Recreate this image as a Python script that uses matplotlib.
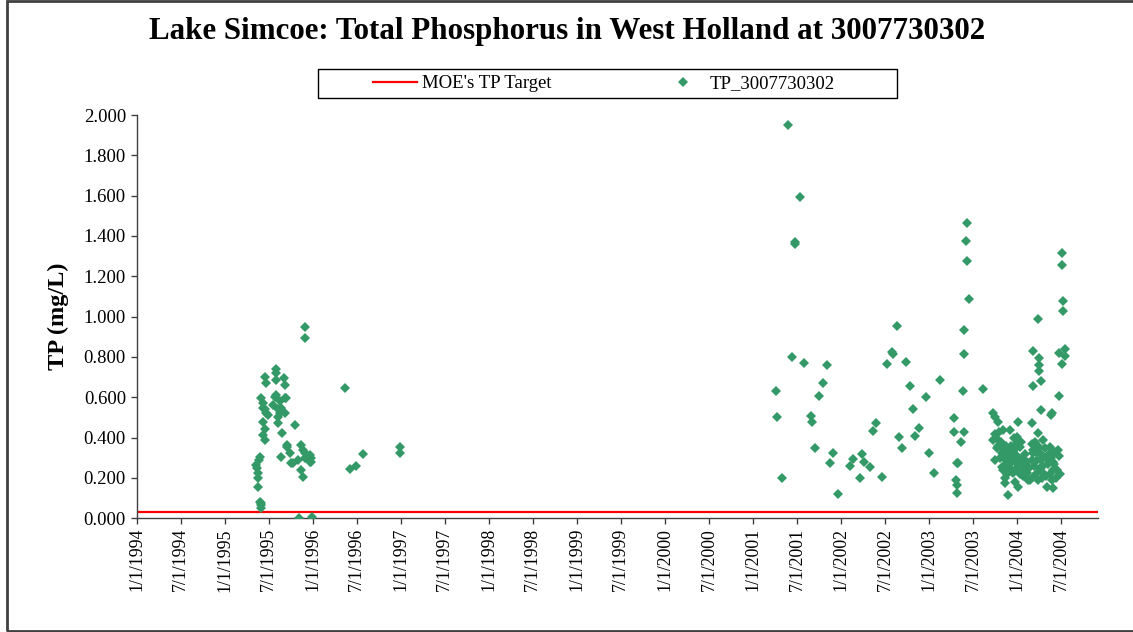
import datetime as dt
import matplotlib
matplotlib.use("Agg")
import matplotlib.pyplot as plt
import matplotlib.dates as mdates
from matplotlib.patches import Rectangle
from matplotlib.ticker import FuncFormatter

# ---------------- data (decimal year, TP mg/L) ----------------
years_1995 = [1995.357, 1995.364, 1995.376, 1995.376, 1995.376, 1995.395, 1995.385, 1995.395,
              1995.405, 1995.414, 1995.405,
              1995.414, 1995.433, 1995.433, 1995.433, 1995.451, 1995.451, 1995.471, 1995.490,
              1995.433, 1995.451, 1995.471, 1995.451, 1995.546, 1995.576, 1995.576, 1995.584,
              1995.584, 1995.603, 1995.603, 1995.603, 1995.641, 1995.649, 1995.671, 1995.678,
              1995.678, 1995.678, 1995.697, 1995.565, 1995.620, 1995.620,
              1995.641, 1995.709, 1995.709, 1995.735, 1995.754, 1995.773, 1995.799, 1995.830,
              1995.867, 1995.867, 1995.887, 1995.905, 1995.961, 1995.961, 1995.981, 1995.981,
              1995.887, 1995.905, 1995.905, 1995.905, 1995.837, 1995.989]
tp_1995 = [0.264, 0.250, 0.223, 0.200, 0.157, 0.306, 0.290, 0.082,
           0.065, 0.050, 0.075,
           0.595, 0.546, 0.479, 0.413, 0.388, 0.702, 0.670, 0.512,
           0.570, 0.540, 0.520, 0.445, 0.562, 0.741, 0.720, 0.686,
           0.612, 0.504, 0.471, 0.540, 0.546, 0.422, 0.694, 0.661,
           0.595, 0.521, 0.595, 0.600, 0.580, 0.520,
           0.306, 0.364, 0.355, 0.322, 0.273, 0.273, 0.463, 0.289,
           0.364, 0.240, 0.206, 0.322, 0.281, 0.314, 0.281, 0.300,
           0.340, 0.300, 0.950, 0.893, 0.000, 0.005]

years_1996 = [1996.358, 1996.415, 1996.491, 1996.567, 1996.982, 1996.982]
tp_1996 = [0.648, 0.243, 0.261, 0.317, 0.355, 0.325]

years_2001_2003 = [2001.253, 2001.272, 2001.321, 2001.397, 2001.434, 2001.468, 2001.470, 2001.525,
                   2001.574, 2001.650, 2001.669, 2001.706, 2001.744, 2001.794, 2001.839, 2001.868,
                   2001.907, 2001.964, 2002.103, 2002.134, 2002.217, 2002.236, 2002.254, 2002.322,
                   2002.361, 2002.398, 2002.460, 2002.519, 2002.580, 2002.590, 2002.633, 2002.651,
                   2002.689, 2002.737, 2002.776, 2002.812, 2002.832, 2002.888, 2002.961, 2002.999,
                   2003.048, 2003.124,
                   2003.285, 2003.285, 2003.320, 2003.331, 2003.306, 2003.320, 2003.320, 2003.358,
                   2003.381, 2003.390, 2003.399, 2003.399, 2003.415, 2003.426, 2003.426, 2003.456,
                   2003.615]
tp_2001_2003 = [0.633, 0.504, 0.198, 1.951, 0.799, 1.370, 1.362, 1.592,
                0.769, 0.509, 0.479, 0.350, 0.608, 0.673, 0.760, 0.276,
                0.322, 0.119, 0.259, 0.294, 0.198, 0.319, 0.281, 0.253,
                0.435, 0.474, 0.206, 0.767, 0.823, 0.815, 0.956, 0.403,
                0.347, 0.774, 0.656, 0.544, 0.410, 0.449, 0.601, 0.323,
                0.227, 0.688,
                0.498, 0.430, 0.276, 0.276, 0.190, 0.163, 0.127, 0.377,
                0.631, 0.430, 0.934, 0.813, 1.377, 1.466, 1.275, 1.086,
                0.640]

years_2004 = [2003.728, 2003.747, 2003.785, 2003.728, 2003.767, 2003.747, 2003.823, 2003.823,
              2003.841, 2003.841, 2003.860, 2003.860, 2003.880, 2003.880, 2003.898, 2003.917,
              2003.917, 2003.955, 2003.974, 2003.993, 2003.993, 2003.993, 2004.011, 2004.011,
              2004.011, 2004.031, 2004.087, 2004.107, 2004.125, 2004.144, 2004.163, 2004.163,
              2004.181, 2004.181, 2004.181, 2004.220, 2004.220, 2004.239, 2004.268, 2004.295,
              2004.295, 2004.333, 2004.371, 2004.408, 2004.408, 2004.408,
              2003.750, 2003.780, 2003.800, 2003.870, 2003.900, 2003.940, 2003.960, 2004.050,
              2004.060, 2004.200, 2004.250, 2004.260, 2004.280, 2004.320, 2004.350, 2004.380,
              2004.390, 2004.420, 2004.440, 2004.460,
              2003.760, 2003.790, 2003.810, 2003.830, 2003.850, 2003.860, 2003.880, 2003.890,
              2003.910, 2003.930, 2003.940, 2003.950, 2003.970, 2003.980, 2004.000, 2004.020,
              2004.030, 2004.040, 2004.070, 2004.090, 2004.110, 2004.130,
              2004.170, 2004.190, 2004.210, 2004.230, 2004.240, 2004.270, 2004.290, 2004.310,
              2004.330, 2004.360, 2004.370, 2004.400, 2004.430, 2004.450, 2004.470, 2004.480,
              2004.239, 2004.181, 2004.249, 2004.249, 2004.249, 2004.268, 2004.173, 2004.268,
              2004.390, 2004.380, 2004.473, 2004.503, 2004.503, 2004.522, 2004.522, 2004.541,
              2004.476, 2004.545, 2004.503]
tp_2004 = [0.521, 0.500, 0.479, 0.388, 0.347, 0.289, 0.322, 0.256,
           0.438, 0.240, 0.198, 0.174, 0.281, 0.322, 0.116, 0.314,
           0.438, 0.223, 0.182, 0.405, 0.372, 0.248, 0.479, 0.289,
           0.157, 0.355, 0.240, 0.223, 0.190, 0.190, 0.471, 0.289,
           0.339, 0.322, 0.206, 0.289, 0.223, 0.422, 0.289, 0.388,
           0.223, 0.157, 0.355, 0.322, 0.240, 0.149,
           0.420, 0.360, 0.300, 0.360, 0.260, 0.300, 0.400, 0.300,
           0.210, 0.380, 0.350, 0.250, 0.200, 0.300, 0.270, 0.300,
           0.190, 0.270, 0.200, 0.340,
           0.400, 0.430, 0.380, 0.350, 0.300, 0.260, 0.220, 0.340,
           0.270, 0.360, 0.240, 0.330, 0.280, 0.350, 0.310, 0.260,
           0.220, 0.380, 0.270, 0.320, 0.280, 0.250,
           0.370, 0.260, 0.330, 0.360, 0.190, 0.320, 0.260, 0.350,
           0.210, 0.320, 0.220, 0.280, 0.330, 0.240, 0.310, 0.220,
           0.988, 0.831, 0.793, 0.760, 0.732, 0.681, 0.656, 0.537,
           0.524, 0.512, 0.608, 1.314, 1.256, 1.079, 1.028, 0.840,
           0.822, 0.805, 0.765]

tp_target = 0.030
title = "Lake Simcoe: Total Phosphorus in West Holland at 3007730302"
series_label = "TP_3007730302"
target_label = "MOE's TP Target"
y_label = "TP (mg/L)"
x_start, x_end = 1994.0, 2004.915
tick_years = list(range(1994, 2005))


def to_date(t):
    y = int(t)
    a = dt.datetime(y, 1, 1)
    b = dt.datetime(y + 1, 1, 1)
    return a + (b - a) * (t - y)


all_years = years_1995 + years_1996 + years_2001_2003 + years_2004
all_tp = tp_1995 + tp_1996 + tp_2001_2003 + tp_2004
dates = [to_date(t) for t in all_years]

serif = ["Liberation Serif", "DejaVu Serif"]
plt.rcParams["font.family"] = serif

W, H = 1133, 632
fig = plt.figure(figsize=(W / 100, H / 100), dpi=100)
ax = fig.add_axes([137 / W, 1 - 518.3 / H, (1098 - 137) / W, (518.3 - 115) / H])

xmin, xmax = to_date(x_start), to_date(x_end)
ax.plot([xmin, xmax], [tp_target, tp_target], color="#ff0000", lw=1.6, label=target_label, zorder=2)
ax.plot(dates, all_tp, linestyle="none", marker="D", markersize=5.3, color="#339966",
        markeredgewidth=0, label=series_label, zorder=3)

ax.set_xlim(xmin, xmax)
ax.set_ylim(0, 2.0)
ax.set_yticks([i * 0.2 for i in range(11)])
ax.yaxis.set_major_formatter(FuncFormatter(lambda v, p: f"{v:.3f}"))

ticks = []
for y in tick_years:
    ticks.append(dt.datetime(y, 1, 1))
    ticks.append(dt.datetime(y, 7, 1))
ax.set_xticks(ticks)
ax.xaxis.set_major_formatter(FuncFormatter(
    lambda v, p: (lambda d: f"{d.month}/{d.day}/{d.year}")(mdates.num2date(v))))
for lab in ax.get_xticklabels():
    lab.set_rotation(90)

ax.tick_params(axis="both", direction="out", length=4, width=1, colors="#404040",
               labelcolor="black")
ax.tick_params(axis="x", pad=3, labelsize=12.8)
ax.tick_params(axis="y", pad=4, labelsize=13.5)
for s in ["top", "right"]:
    ax.spines[s].set_visible(False)
for s in ["left", "bottom"]:
    ax.spines[s].set_color("#404040")
    ax.spines[s].set_linewidth(1)

ax.set_ylabel(y_label, fontsize=17.5, fontweight="bold")
ax.yaxis.set_label_coords(-68 / 961, 0.5)

fig.text(567 / W, 1 - 32 / H, title, ha="center", va="center", fontsize=22.3, fontweight="bold")

# legend: framed box 318..897 x 69..98 px
leg_fs = 13.5
leg_px = leg_fs * 100 / 72
leg = fig.legend(loc="center left", bbox_to_anchor=(373 / W, 1 - 83.5 / H),
                 ncol=2, frameon=False, fontsize=leg_fs, borderpad=0, borderaxespad=0,
                 handlelength=44 / leg_px, handletextpad=5 / leg_px, columnspacing=109 / leg_px)
fig.patches.append(Rectangle((318 / W, 1 - 98 / H), 579 / W, 29 / H, transform=fig.transFigure,
                             fill=False, edgecolor="black", lw=1))

fig.patches.append(Rectangle((7 / W, 1 / H), 1.2, 630 / H, transform=fig.transFigure,
                             fill=False, edgecolor="#404040", lw=2))

fig.savefig("out.png", dpi=100)
